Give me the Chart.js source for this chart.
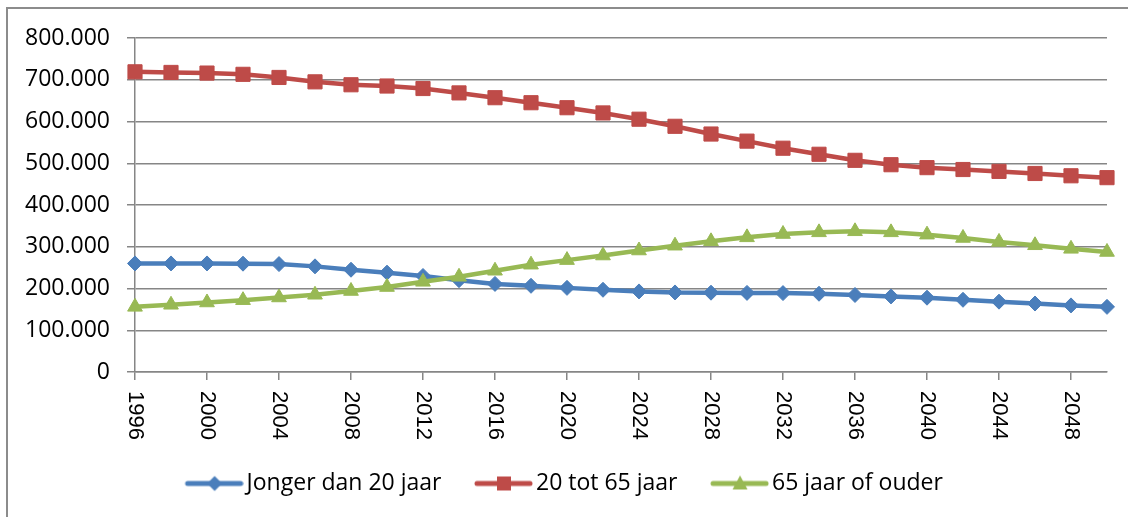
<!DOCTYPE html>
<html>
<head>
<meta charset="utf-8">
<title>Bevolking naar leeftijd</title>
<script src="https://cdn.jsdelivr.net/npm/chart.js@4.4.1/dist/chart.umd.min.js"></script>
<style>
  html, body { margin: 0; padding: 0; background: #fff; }
  #wrap { width: 1128px; height: 517px; position: relative; }
</style>
</head>
<body>
<div id="wrap"><canvas id="grafiek"></canvas></div>
<script>
// jaren op de x-as (om de 2 jaar)
const jaren = ['1996', '1998', '2000', '2002', '2004', '2006', '2008', '2010', '2012', '2014',
               '2016', '2018', '2020', '2022', '2024', '2026', '2028', '2030', '2032', '2034',
               '2036', '2038', '2040', '2042', '2044', '2046', '2048', '2050'];

// aantallen per leeftijdsgroep
const jongerDan20 = [260000, 260000, 260000, 259500, 258500, 253000, 245000, 238000, 230000, 220000,
                     211000, 206500, 201500, 197000, 193000, 190500, 190000, 189500, 189000, 187500,
                     184500, 181000, 178000, 173000, 168500, 164000, 159500, 156000];
const van20tot65 = [719000, 717500, 716000, 713000, 705500, 695000, 688000, 685000, 679000, 668500,
                    657000, 645000, 633000, 620500, 605500, 588500, 570000, 553000, 536000, 521500,
                    507000, 496500, 489500, 485000, 480500, 475500, 470000, 465500];
const ouderDan65 = [156000, 161000, 166500, 172000, 178500, 185000, 194000, 203500, 216000, 228000,
                    242500, 257000, 268000, 279000, 291000, 302500, 313000, 322500, 330500, 334500,
                    337000, 334500, 329000, 321000, 311500, 303500, 295000, 287500];

const reeksNamen = ['Jonger dan 20 jaar', '20 tot 65 jaar', '65 jaar of ouder'];

// labels op de assen
const yLabels = ['0', '100.000', '200.000', '300.000', '400.000', '500.000', '600.000', '700.000', '800.000'];
const xLabels = ['1996', '2000', '2004', '2008', '2012', '2016', '2020', '2024', '2028', '2032',
                 '2036', '2040', '2044', '2048'];

const grijs = '#868686';
const kleuren = ['#4a7ebb', '#be4b48', '#98b954'];
const vormen = ['rectRot', 'rect', 'triangle'];

// klein plaatje voor de legenda: lijntje met marker in het midden
function legendaMarker(kleur, vorm) {
    const c = document.createElement('canvas');
    c.width = 88;
    c.height = 20;
    const g = c.getContext('2d');
    g.strokeStyle = kleur;
    g.fillStyle = kleur;
    g.lineWidth = 5;
    g.lineCap = 'round';
    g.beginPath();
    g.moveTo(32, 10);
    g.lineTo(85, 10);
    g.stroke();
    const cx = 59, cy = 10;
    g.beginPath();
    if (vorm === 'rectRot') {
        g.moveTo(cx - 7.5, cy); g.lineTo(cx, cy - 7.5); g.lineTo(cx + 7.5, cy); g.lineTo(cx, cy + 7.5);
    } else if (vorm === 'rect') {
        g.rect(cx - 7, cy - 7, 14, 14);
    } else {
        g.moveTo(cx, cy - 8); g.lineTo(cx + 7.5, cy + 6); g.lineTo(cx - 7.5, cy + 6);
    }
    g.closePath();
    g.fill();
    return c;
}

// witte achtergrond + kader rond de grafiek
const kader = {
    id: 'kader',
    beforeDraw(chart) {
        const ctx = chart.ctx;
        ctx.save();
        ctx.fillStyle = '#fff';
        ctx.fillRect(0, 0, chart.width, chart.height);
        ctx.strokeStyle = '#8c8c8c';
        ctx.lineWidth = 2;
        ctx.beginPath();
        ctx.moveTo(7, chart.height + 5);
        ctx.lineTo(7, 8);
        ctx.lineTo(chart.width + 5, 8);
        ctx.stroke();
        ctx.restore();
    }
};

// jaartallen verticaal (van boven naar beneden) onder de x-as
const jaarLabels = {
    id: 'jaarLabels',
    afterDraw(chart) {
        const schaal = chart.scales.x;
        const ctx = chart.ctx;
        ctx.save();
        ctx.font = '22px "Liberation Sans", Arial, sans-serif';
        ctx.fillStyle = '#000';
        ctx.textAlign = 'left';
        ctx.textBaseline = 'middle';
        jaren.forEach((jaar, i) => {
            if (!xLabels.includes(jaar)) return;
            const x = schaal.getPixelForTick(i);
            ctx.save();
            ctx.translate(x, schaal.top + 19);
            ctx.rotate(Math.PI / 2);
            ctx.fillText(jaar, 0, 0);
            ctx.restore();
        });
        ctx.restore();
    }
};

const reeksen = [jongerDan20, van20tot65, ouderDan65];
const straal = [7.5, 10, 8.5];

new Chart(document.getElementById('grafiek'), {
    type: 'line',
    data: {
        labels: jaren,
        datasets: reeksen.map((waarden, i) => ({
            label: reeksNamen[i],
            data: waarden,
            borderColor: kleuren[i],
            backgroundColor: kleuren[i],
            borderWidth: 4.5,
            borderJoinStyle: 'round',
            pointStyle: vormen[i],
            pointRadius: straal[i],
            pointBorderWidth: 1,
            pointBorderColor: kleuren[i],
            pointBackgroundColor: kleuren[i],
            tension: 0,
            order: 2 - i // groen bovenop, zoals in Excel
        }))
    },
    options: {
        responsive: true,
        maintainAspectRatio: false,
        animation: false,
        layout: { padding: { top: 38, right: 21, bottom: 12, left: 0 } },
        plugins: {
            tooltip: { enabled: false },
            legend: {
                position: 'bottom',
                labels: {
                    usePointStyle: true,
                    pointStyleWidth: 71,
                    padding: 12,
                    color: '#000',
                    font: { family: '"Open Sans", sans-serif', size: 23 },
                    generateLabels: chart => chart.data.datasets.map((ds, i) => ({
                        text: ds.label,
                        pointStyle: legendaMarker(kleuren[i], vormen[i]),
                        fillStyle: kleuren[i],
                        strokeStyle: kleuren[i],
                        lineWidth: 0,
                        hidden: false,
                        datasetIndex: i
                    }))
                }
            }
        },
        scales: {
            x: {
                grid: {
                    drawOnChartArea: false,
                    drawTicks: true,
                    tickLength: 8,
                    lineWidth: 1.5,
                    tickColor: c => xLabels.includes(jaren[c.index]) ? grijs : 'rgba(0,0,0,0)'
                },
                border: { color: grijs, width: 1.5 },
                ticks: { display: false, autoSkip: false },
                afterFit: s => { s.height = 88; }
            },
            y: {
                min: 0,
                max: 800000,
                grid: {
                    color: grijs,
                    lineWidth: 1.5,
                    tickLength: 8,
                    tickColor: c => (c.tick && c.tick.value % 100000 === 0) ? grijs : 'rgba(0,0,0,0)'
                },
                border: { color: grijs, width: 1.5 },
                ticks: {
                    stepSize: 50000,
                    padding: 17,
                    color: '#000',
                    font: { family: '"Open Sans", sans-serif', size: 23 },
                    callback: value => {
                        const i = value / 100000;
                        return Number.isInteger(i) ? yLabels[i] : '';
                    }
                },
                afterFit: s => { s.width = 135; }
            }
        }
    },
    plugins: [kader, jaarLabels]
});
</script>
</body>
</html>
